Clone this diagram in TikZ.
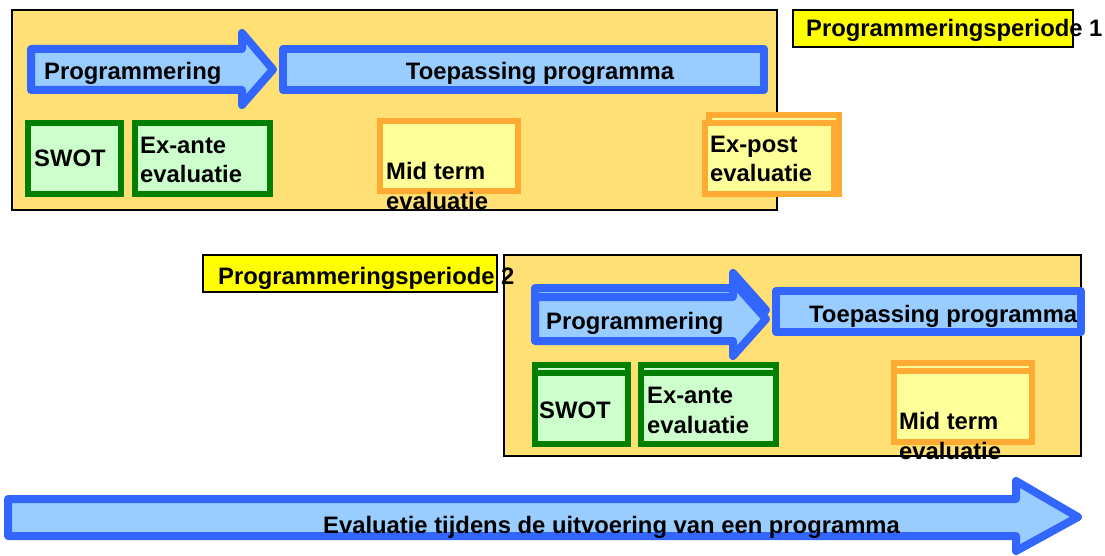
\documentclass[tikz,border=0pt]{standalone}
\usepackage{fontspec}
\setmainfont{Liberation Sans}
\definecolor{periodfill}{HTML}{FFE074}
\definecolor{labelfill}{HTML}{FFFF00}
\definecolor{flowline}{HTML}{3366FF}
\definecolor{flowfill}{HTML}{99CCFF}
\definecolor{greenline}{HTML}{007F00}
\definecolor{greenfill}{HTML}{CCFFCC}
\definecolor{orangeline}{HTML}{FFAA33}
\definecolor{orangefill}{HTML}{FFFF99}
\begin{document}
\begin{tikzpicture}[x=1pt,y=-1pt,
    periodbox/.style={draw=black,line width=1.5pt,fill=periodfill},
    labelbox/.style={draw=black,line width=1.2pt,fill=labelfill},
    flow/.style={draw=flowline,line width=8pt,fill=flowfill,line join=round},
    greenbox/.style={draw=greenline,line width=6pt,fill=greenfill},
    orangebox/.style={draw=orangeline,line width=6pt,fill=orangefill},
    txt/.style={inner sep=0pt,anchor=base west,align=left,
      font=\fontsize{23.8}{29.5}\selectfont\bfseries}]
      \useasboundingbox[fill=white] (0,0) rectangle (1105,556);
      % programmeringsperiode 1
      \draw[periodbox] (12,10) rectangle (777,210);
      \draw[labelbox] (793,10) rectangle (1073,47);
      \draw[flow] (31,49) -- (242,49) -- (242,33) -- (273,69.5)
        -- (242,105) -- (242,90) -- (31,90) -- cycle;
      \draw[flow] (283,49) rectangle (764,90);
      \draw[greenbox] (28,123) rectangle (121,194);
      \draw[greenbox] (135,123) rectangle (270,194);
      \draw[orangebox] (380,121) rectangle (518,191);
      \draw[orangebox] (709,115) rectangle (839,194);
      \draw[orangebox] (705,123) rectangle (834,194);
      \node[txt] (per1) at (806,37) {Programmeringsperiode 1};
      \node[txt] (prog1) at (44,80) {Programmering};
      \node[txt,anchor=base] (toep1) at (540,80) {Toepassing programma};
      \node[txt] (swot1) at (34,167) {SWOT};
      % last line sits on the given baseline
      \node[txt] (exante1) at (140,183) {Ex-ante\\evaluatie};
      \node[txt] (mid1) at (386,209) {Mid term\\evaluatie};
      \node[txt] (expost1) at (710,182) {Ex-post\\evaluatie};
      % programmeringsperiode 2
      \draw[periodbox] (504,255) rectangle (1081,456);
      \draw[labelbox] (203,255) rectangle (497,292);
      \begin{scope}[yshift=9pt]
        \draw[flow] (535,297) -- (733,297) -- (733,282) -- (766,319)
          -- (733,356) -- (733,341) -- (535,341) -- cycle;
      \end{scope}
      \draw[flow] (535,297) -- (733,297) -- (733,282) -- (766,319)
        -- (733,356) -- (733,341) -- (535,341) -- cycle;
      \draw[flow] (776,291) rectangle (1081,332);
      \draw[greenbox] (535,365) rectangle (628,444);
      \draw[greenbox] (535,373) rectangle (628,444);
      \draw[greenbox] (641,365) rectangle (776,444);
      \draw[greenbox] (641,373) rectangle (776,444);
      \draw[orangebox] (894,363) rectangle (1032,442);
      \draw[orangebox] (894,371) rectangle (1032,442);
      \node[txt] (per2) at (218,284) {Programmeringsperiode 2};
      \node[txt] (prog2) at (546,329) {Programmering};
      \node[txt] (toep2) at (809,322) {Toepassing programma};
      \node[txt] (swot2) at (539,418) {SWOT};
      \node[txt] (exante2) at (647,433) {Ex-ante\\evaluatie};
      \node[txt] (mid2) at (899,459) {Mid term\\evaluatie};
      % evaluatie tijdens de uitvoering
      \draw[flow] (8,499) -- (1016,499) -- (1016,481) -- (1078,517)
        -- (1016,551) -- (1016,536) -- (8,536) -- cycle;
      \node[txt] (eval) at (323,533) {Evaluatie tijdens de uitvoering van een programma};
    \end{tikzpicture}
\end{document}
